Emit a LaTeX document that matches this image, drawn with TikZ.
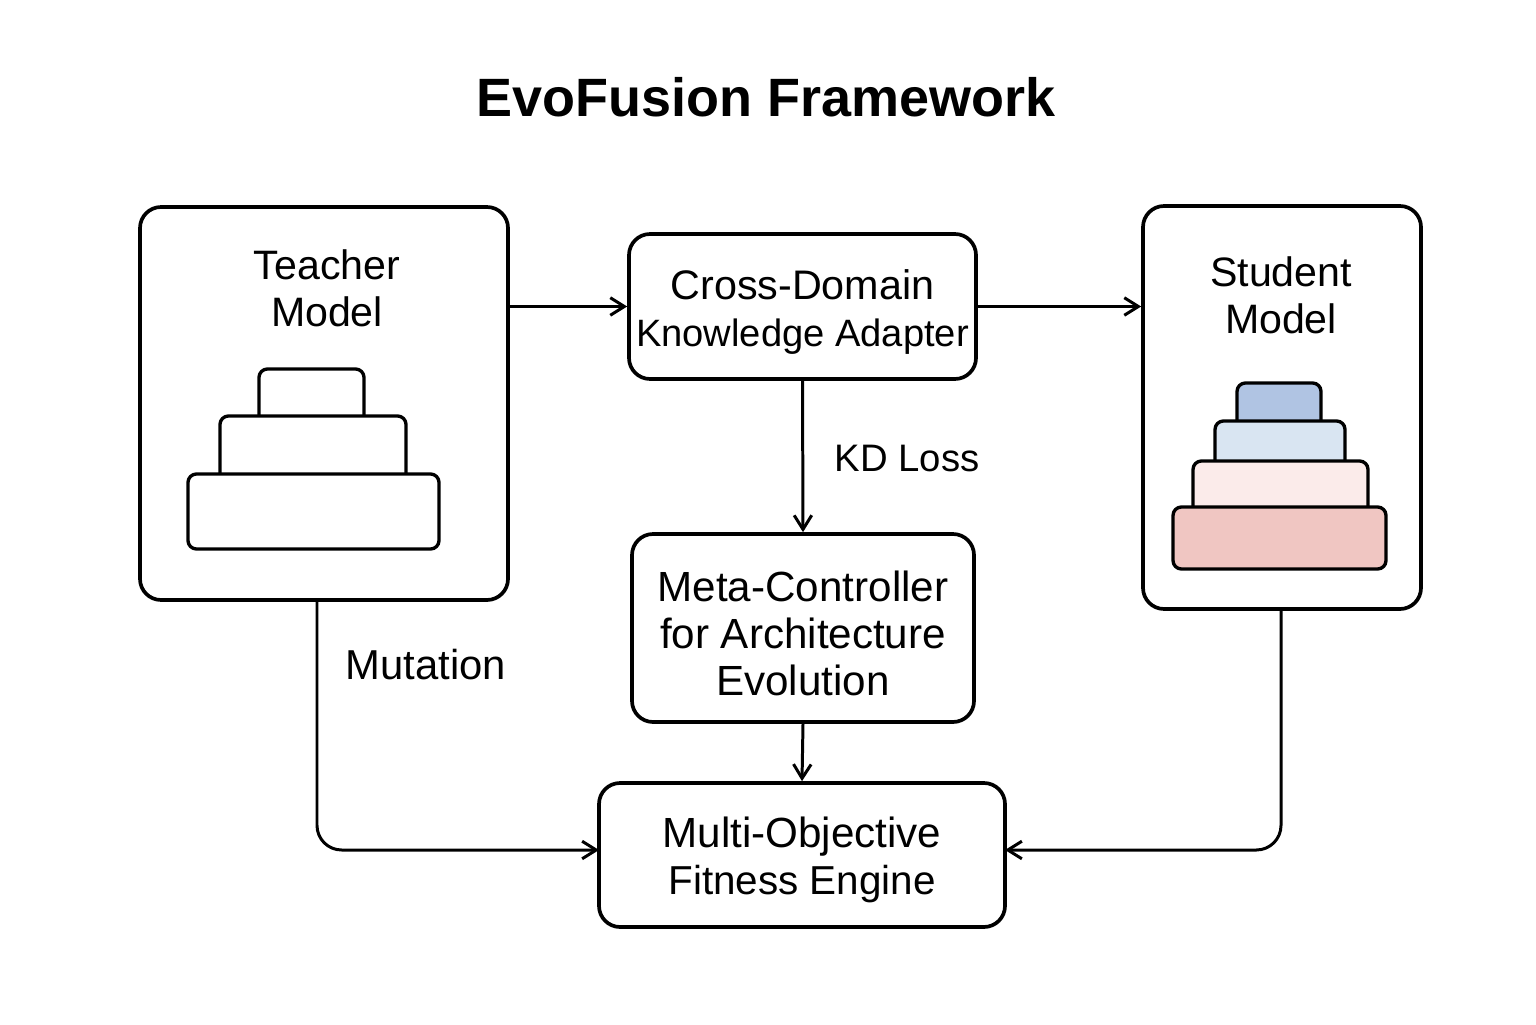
\documentclass[tikz,border=0pt]{standalone}
\usepackage{fontspec}
\setmainfont{Liberation Sans}
\usetikzlibrary{arrows.meta}
\definecolor{stackblue}{HTML}{B0C4E3}
\definecolor{stacksky}{HTML}{D9E5F2}
\definecolor{stackrose}{HTML}{FBEBEA}
\definecolor{stackred}{HTML}{F0C6C2}
\newcommand{\lift}{\rule{0pt}{11.6pt}}
\newcommand{\sized}[1]{\fontsize{#1}{13.4}\selectfont}
\tikzset{
  box/.style={draw, line width=1.05pt, rounded corners=6pt, align=center, font=\sized{12}, inner sep=0pt},
  layer/.style={draw, line width=0.95pt, rounded corners=2.4pt},
  caption/.style={align=center, font=\sized{11.7}},
  link/.style={line width=0.85pt, -{Straight Barb[length=4pt,width=5pt,line width=0.85pt]}, rounded corners=7pt}
}
\begin{document}
\begin{tikzpicture}
  \useasboundingbox (0,0) rectangle (15.36,10.24);
  \node[font=\fontsize{15.36}{18}\selectfont\bfseries] (title) at (7.66,9.27) {EvoFusion Framework};

  % outer boxes
  \node[box, minimum width=3.68cm, minimum height=3.93cm] (teacher) at (3.24,6.205) {};
  \node[box, minimum width=2.78cm, minimum height=4.03cm] (student) at (12.82,6.165) {};
  \node[caption] (teachername) at (3.27,7.36) {Teacher\\Model};
  \node[caption] (studentname) at (12.81,7.29) {Student\\Model};

  % middle column
  \node[box, font=\sized{11.75}, minimum width=3.47cm, minimum height=1.45cm] (adapter) at (8.025,7.175) {\lift Cross-Domain\\{\sized{10.85}Knowledge Adapter}};
  \node[box, minimum width=3.42cm, minimum height=1.88cm] (meta) at (8.03,3.96) {\lift Meta-Controller\\for Architecture\\Evolution};
  \node[box, minimum width=4.06cm, minimum height=1.44cm] (fitness) at (8.02,1.69) {\lift Multi-Objective\\{\sized{11.5}Fitness Engine}};

  % teacher stack
  \draw[layer, fill=white] (2.59,6.00) rectangle (3.64,6.55);
  \draw[layer, fill=white] (2.20,5.30) rectangle (4.06,6.08);
  \draw[layer, fill=white] (1.88,4.75) rectangle (4.39,5.50);

  % student stack
  \draw[layer, fill=stackblue] (12.37,5.90) rectangle (13.21,6.41);
  \draw[layer, fill=stacksky] (12.15,5.50) rectangle (13.45,6.03);
  \draw[layer, fill=stackrose] (11.93,5.00) rectangle (13.68,5.63);
  \draw[layer, fill=stackred] (11.73,4.55) rectangle (13.86,5.17);

  \coordinate (teacherout) at (3.17,4.24);
  \coordinate (studentout) at (12.81,4.15);
  \coordinate (fitleft) at (5.99,1.74);
  \coordinate (fitright) at (10.05,1.74);

  \draw[link] (teacher.east |- adapter.west) -- (adapter.west);
  \draw[link] (adapter.east) -- (adapter.east -| student.west);
  \draw[link] (adapter.south) -- (meta.north);
  \draw[link] (meta.south) -- (fitness.north);
  \draw[link] (teacherout) |- (fitleft);
  \draw[link] (studentout) |- (fitright);

  \node[caption, font=\sized{10.9}] (kdloss) at (9.07,5.65) {KD Loss};
  \node[caption, font=\sized{11.9}] (mutation) at (4.26,3.59) {Mutation};
\end{tikzpicture}
\end{document}
